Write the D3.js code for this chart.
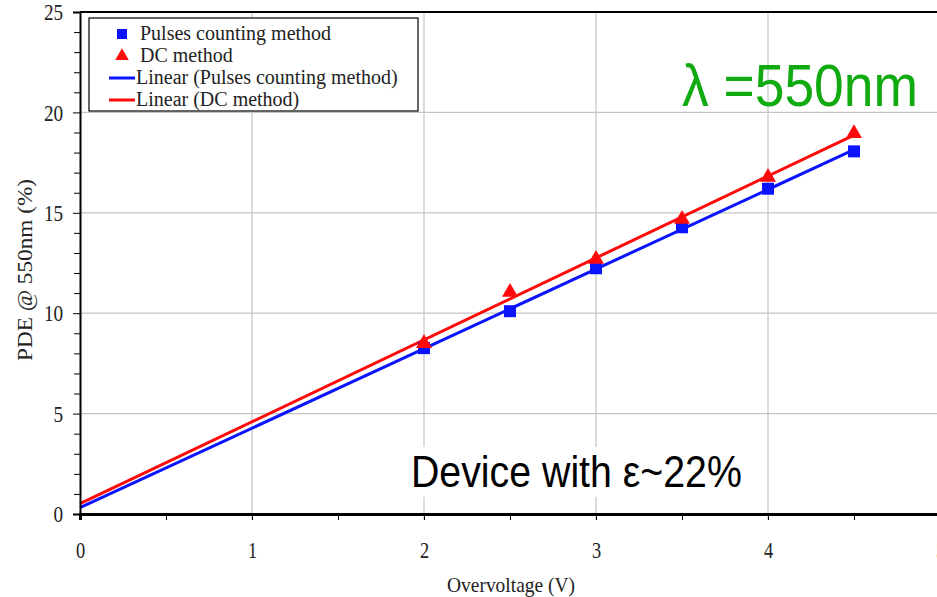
<!DOCTYPE html>
<html>
<head>
<meta charset="utf-8">
<script src="https://cdn.jsdelivr.net/npm/d3@7"></script>
<style>
  body { margin: 0; background: #fff; }
  svg { display: block; }
</style>
</head>
<body>
<div id="chart"></div>
<script>
const overvoltage = [2, 2.5, 3, 3.5, 4, 4.5];
const pulsesPDE = [8.26, 10.1, 12.24, 14.28, 16.2, 18.06];
const dcPDE = [8.5, 11.05, 12.69, 14.68, 16.77, 18.95];
const xTicks = [0, 1, 2, 3, 4, 5];
const yTicks = [0, 5, 10, 15, 20, 25];
const legendLabels = ["Pulses counting method", "DC method", "Linear (Pulses counting method)", "Linear (DC method)"];

const W = 937, H = 597;
const margin = { top: 12, right: -3, bottom: 83, left: 80 };
const width = W - margin.left - margin.right;
const height = H - margin.top - margin.bottom;

const svg = d3.select("#chart").append("svg")
    .attr("width", W)
    .attr("height", H);

const g = svg.append("g")
    .attr("transform", `translate(${margin.left},${margin.top})`);

const x = d3.scaleLinear().domain([0, 5]).range([0, width]);
const y = d3.scaleLinear().domain([0, 25]).range([height, 0]);

// least squares trendline, like the spreadsheet "Linear" trendline
function linearFit(xs, ys) {
    const mx = d3.mean(xs), my = d3.mean(ys);
    const sxy = d3.sum(xs, (v, i) => (v - mx) * (ys[i] - my));
    const sxx = d3.sum(xs, v => (v - mx) * (v - mx));
    const slope = sxy / sxx;
    return { slope, intercept: my - slope * mx };
}

// squeeze a text horizontally to a given width, keeping its left edge
function fitWidth(sel, x0, y0, w) {
    const natural = sel.node().getComputedTextLength();
    const k = w / natural;
    sel.attr("x", 0).attr("y", 0)
        .attr("transform", `translate(${x0},${y0}) scale(${k},1)`);
}

// grid
g.append("g")
    .selectAll("line")
    .data(xTicks.slice(1))
    .enter().append("line")
    .attr("x1", d => x(d)).attr("x2", d => x(d))
    .attr("y1", 0).attr("y2", height + 6)
    .attr("stroke", "#c4c4c4").attr("stroke-width", 1.2);

g.append("g")
    .selectAll("line")
    .data(yTicks.slice(1, -1))
    .enter().append("line")
    .attr("x1", 0).attr("x2", width)
    .attr("y1", d => y(d)).attr("y2", d => y(d))
    .attr("stroke", "#c4c4c4").attr("stroke-width", 1.2);

// annotation text with white backing (hides grid behind it)
const devText = g.append("text")
    .attr("font-family", "Liberation Sans, Arial, sans-serif")
    .attr("font-size", 44)
    .attr("fill", "#000")
    .text("Device with ε~22%");
fitWidth(devText, 331, y(1.35), 331);
g.insert("rect", "text")
    .attr("x", 325).attr("y", y(1.35) - 40)
    .attr("width", 343).attr("height", 50)
    .attr("fill", "#fff");

const lambdaText = g.append("text")
    .attr("font-family", "Liberation Sans, Arial, sans-serif")
    .attr("font-size", 60)
    .attr("fill", "#11aa11")
    .text("λ =550nm");
fitWidth(lambdaText, 602, y(20.3), 236);

// trendlines
const series = [
    { ys: pulsesPDE, color: "#0a14ff" },
    { ys: dcPDE, color: "#ff0a0a" }
];
series.forEach(s => {
    const f = linearFit(overvoltage, s.ys);
    const x0 = 0, x1 = d3.max(overvoltage);
    g.append("line")
        .attr("x1", x(x0)).attr("y1", y(f.intercept + f.slope * x0))
        .attr("x2", x(x1)).attr("y2", y(f.intercept + f.slope * x1))
        .attr("stroke", s.color)
        .attr("stroke-width", 3);
});

// markers
g.selectAll(".sq")
    .data(overvoltage.map((v, i) => [v, pulsesPDE[i]]))
    .enter().append("rect")
    .attr("class", "sq")
    .attr("x", d => x(d[0]) - 6).attr("y", d => y(d[1]) - 6)
    .attr("width", 12).attr("height", 12)
    .attr("fill", "#0a14ff");

const tri = d3.symbol().type(d3.symbolTriangle).size(110);
g.selectAll(".tri")
    .data(overvoltage.map((v, i) => [v, dcPDE[i]]))
    .enter().append("path")
    .attr("class", "tri")
    .attr("transform", d => `translate(${x(d[0])},${y(d[1])})`)
    .attr("d", tri)
    .attr("fill", "#ff0a0a");

// axes
const serif = "Liberation Serif, Times New Roman, serif";

const yAxis = g.append("g")
    .call(d3.axisLeft(y).tickValues(yTicks).tickSize(7).tickPadding(14).tickFormat(d3.format("d")));
yAxis.select(".domain").attr("stroke-width", 2);
yAxis.selectAll("text")
    .attr("font-family", serif).attr("font-size", 24).attr("fill", "#222")
    .attr("transform", "scale(0.8,1)");
g.append("g")
    .call(d3.axisLeft(y).tickValues(d3.range(0, 26).filter(v => v % 5 !== 0)).tickSize(6).tickFormat(""))
    .select(".domain").remove();

const xAxis = g.append("g")
    .attr("transform", `translate(0,${height})`)
    .call(d3.axisBottom(x).tickValues(xTicks).tickSize(6).tickPadding(22).tickFormat(d3.format("d")));
xAxis.select(".domain").attr("stroke-width", 3);
xAxis.selectAll("text")
    .attr("font-family", serif).attr("font-size", 23).attr("fill", "#222")
    .attr("transform", "scale(0.8,1)");
g.append("g")
    .attr("transform", `translate(0,${height})`)
    .call(d3.axisBottom(x).tickValues(d3.range(0.5, 5, 1)).tickSize(6).tickFormat(""))
    .select(".domain").remove();

// top border
g.append("line")
    .attr("x1", 0).attr("x2", width)
    .attr("y1", 0).attr("y2", 0)
    .attr("stroke", "#000").attr("stroke-width", 2);

// axis titles
svg.append("text")
    .attr("x", 511).attr("y", 592)
    .attr("text-anchor", "middle")
    .attr("font-family", serif).attr("font-size", 21).attr("fill", "#222")
    .attr("textLength", 128)
    .attr("lengthAdjust", "spacingAndGlyphs")
    .text("Overvoltage (V)");

svg.append("text")
    .attr("transform", `translate(32,270) rotate(-90)`)
    .attr("text-anchor", "middle")
    .attr("font-family", serif).attr("font-size", 22).attr("fill", "#222")
    .attr("textLength", 182)
    .attr("lengthAdjust", "spacingAndGlyphs")
    .text("PDE @ 550nm (%)");

// legend
const legend = svg.append("g").attr("transform", "translate(89,18)");
legend.append("rect")
    .attr("width", 329).attr("height", 93)
    .attr("fill", "#fff").attr("stroke", "#000").attr("stroke-width", 1.2);

const rowY = [16, 38, 60, 82];
legendLabels.forEach((lab, i) => {
    const row = legend.append("g").attr("transform", `translate(0,${rowY[i]})`);
    if (i === 0) {
        row.append("rect").attr("x", 28).attr("y", -5).attr("width", 10).attr("height", 10).attr("fill", "#0a14ff");
    } else if (i === 1) {
        row.append("path").attr("transform", "translate(33,0)")
            .attr("d", d3.symbol().type(d3.symbolTriangle).size(80)).attr("fill", "#ff0a0a");
    } else {
        row.append("line").attr("x1", 20).attr("x2", 46).attr("y1", 0).attr("y2", 0)
            .attr("stroke", i === 2 ? "#0a14ff" : "#ff0a0a").attr("stroke-width", 3);
    }
    row.append("text")
        .attr("x", i < 2 ? 51 : 47).attr("y", 6)
        .attr("font-family", serif).attr("font-size", 20).attr("fill", "#222")
        .text(lab);
});
</script>
</body>
</html>
